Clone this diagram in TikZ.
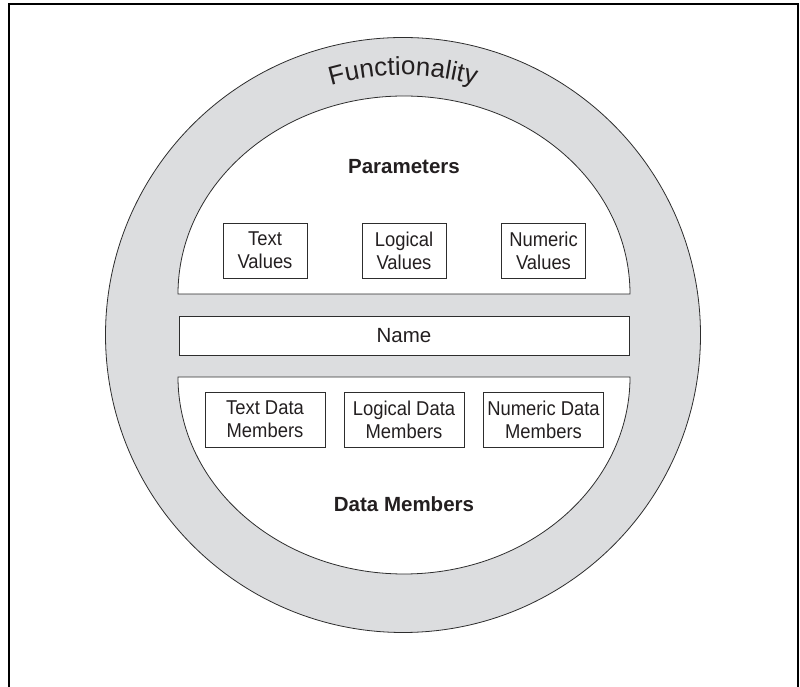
\documentclass[tikz,border=0pt]{standalone}
\usepackage{fontspec}
\setmainfont{Liberation Sans}
\newfontfamily\narrowsans[FakeStretch=0.92]{Liberation Sans}
\usetikzlibrary{decorations.text}

\definecolor{ringgray}{RGB}{220,221,223}
\definecolor{inkline}{RGB}{45,45,45}
\definecolor{inktext}{RGB}{35,31,32}

\tikzset{
	valuebox/.style={draw=inkline, line width=0.9pt, fill=white, minimum width=84pt, minimum height=55pt, inner sep=0pt, align=center, text=inktext, font=\narrowsans\fontsize{20}{23}\selectfont},
	memberbox/.style={valuebox, minimum width=120pt},
	regionlabel/.style={text=inktext, font=\fontsize{20.5}{24}\selectfont\bfseries},
}

\begin{document}
\begin{tikzpicture}[x=1pt, y=1pt]
		%%%%% START %%%%%
		\useasboundingbox (0, 0) rectangle (800, 687);
		
		\draw[line width=2pt, color=black] (8.7, -5) -- (8.7, 683) -- (798, 683) -- (798, -5);
		
		\draw[line width=0.8pt, color=inkline, fill=ringgray] (403, 352) circle (297.5);
		
		\draw[line width=0.8pt, color=inkline, fill=white] (178, 393) arc (180:0:226 and 198) -- cycle;
		\draw[line width=0.8pt, color=inkline, fill=white] (179, 332) rectangle (629, 371);
		\draw[line width=0.8pt, color=inkline, fill=white] (178, 310) arc (180:360:226 and 197) -- cycle;
		
		\path[decorate, decoration={text along path, text align=center, text color=inktext,
			text={|\fontsize{26}{26}\selectfont|Functionality}}]
			(403, 352) ++(126:260) arc (126:54:260);
		
		\node[regionlabel] (params) at (404, 520) {Parameters};
		
		\node[valuebox] (textval) at (265, 436.5) {Text\\Values};
		\node[valuebox] (logicval) at (404, 436.5) {Logical\\Values};
		\node[valuebox] (numval) at (543.5, 436.5) {Numeric\\Values};
		
		\node[text=inktext, font=\fontsize{20.5}{24}\selectfont] (name) at (404, 351.5) {Name};
		
		\node[memberbox] (textmem) at (265, 267.5) {Text Data\\Members};
		\node[memberbox] (logicmem) at (404, 267.5) {Logical Data\\Members};
		\node[memberbox] (nummem) at (543.5, 267.5) {Numeric Data\\Members};
		
		\node[regionlabel] (datamem) at (404, 183) {Data Members};
		
		%%%%% END %%%%%
	\end{tikzpicture}
\end{document}
